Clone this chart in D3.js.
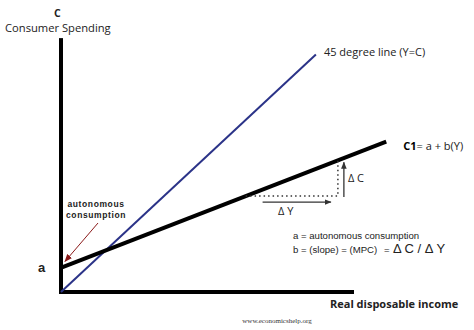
<!DOCTYPE html>
<html>
<head>
<meta charset="utf-8">
<script src="https://cdn.jsdelivr.net/npm/d3@7"></script>
<style>
  body { margin: 0; background: #fff; }
  svg { display: block; }
  .cal { font-family: "Open Sans", sans-serif; fill: #222; }
  .ari { font-family: "Liberation Sans", Arial, sans-serif; fill: #222; }
</style>
</head>
<body>
<div id="chart"></div>
<script>
var width = 474, height = 330;

// axis extents (income Y, consumption C), in arbitrary units
var xMax = 100, yMax = 93;
// consumption function C1 = a + b*Y
var a = 9, b = 0.415;
var c1Range = [0, 111];
// 45 degree line Y = C
var lineRange = [0, 87];
// the slope triangle, between two incomes
var deltaY = [63, 94.5];

var labels = {
    yTitle: 'C', ySub: 'Consumer Spending',
    xTitle: 'Real disposable income',
    line45: '45 degree line (Y=C)',
    auto: ['autonomous', 'consumption'],
    note1: 'a = autonomous consumption',
    note2: 'b = (slope) = (MPC)',
    note3: '\u0394 C / \u0394 Y',
    source: 'www.economicshelp.org'
};

var svg = d3.select('#chart').append('svg')
    .attr('width', width).attr('height', height);

var x = d3.scaleLinear().domain([0, 100]).range([61, 354]);
var y = d3.scaleLinear().domain([0, 100]).range([292, 19]);

function C(v) { return a + b * v; }

var defs = svg.append('defs');
function marker(id, color, size) {
    defs.append('marker')
        .attr('id', id)
        .attr('viewBox', '0 0 10 10')
        .attr('refX', 9).attr('refY', 5)
        .attr('markerWidth', size).attr('markerHeight', size)
        .attr('markerUnits', 'userSpaceOnUse')
        .attr('orient', 'auto')
        .append('path').attr('d', 'M0,1 L10,5 L0,9 Z').attr('fill', color);
}
marker('arrowBlack', '#333', 7);
marker('arrowRed', '#8b1a1a', 8);

// axes
svg.append('line')
    .attr('x1', x(0)).attr('y1', y(0) + 2)
    .attr('x2', x(0)).attr('y2', y(yMax))
    .attr('stroke', '#000').attr('stroke-width', 4);
svg.append('line')
    .attr('x1', x(0) - 2).attr('y1', y(0))
    .attr('x2', x(xMax)).attr('y2', y(0))
    .attr('stroke', '#000').attr('stroke-width', 4);

// 45 degree line
svg.append('line')
    .attr('x1', x(lineRange[0])).attr('y1', y(lineRange[0]))
    .attr('x2', x(lineRange[1])).attr('y2', y(lineRange[1]))
    .attr('stroke', '#2b3388').attr('stroke-width', 2);

// consumption function
svg.append('line')
    .attr('x1', x(c1Range[0]) + 1).attr('y1', y(C(c1Range[0])))
    .attr('x2', x(c1Range[1])).attr('y2', y(C(c1Range[1])))
    .attr('stroke', '#000').attr('stroke-width', 4);

// slope triangle (dotted)
var y0 = y(C(deltaY[0])), y1 = y(C(deltaY[1]));
var xa = x(deltaY[0]), xb = x(deltaY[1]);
svg.append('path')
    .attr('d', `M${xa},${y0} L${xb},${y0} L${xb},${y1}`)
    .attr('fill', 'none').attr('stroke', '#333')
    .attr('stroke-width', 1.5).attr('stroke-dasharray', '1.5,3');

// delta arrows
svg.append('line')
    .attr('x1', xa + 17).attr('y1', y0 + 6)
    .attr('x2', xb - 7).attr('y2', y0 + 6)
    .attr('stroke', '#333').attr('stroke-width', 1.3)
    .attr('marker-end', 'url(#arrowBlack)');
svg.append('line')
    .attr('x1', xb + 6).attr('y1', y0 + 1)
    .attr('x2', xb + 6).attr('y2', y1 + 2)
    .attr('stroke', '#333').attr('stroke-width', 1.3)
    .attr('marker-end', 'url(#arrowBlack)');
svg.append('text').attr('class', 'cal')
    .attr('x', (xa + xb) / 2 - 6).attr('y', y0 + 19)
    .attr('font-size', 11).attr('text-anchor', 'middle')
    .text('\u0394 Y');
svg.append('text').attr('class', 'cal')
    .attr('x', xb + 10).attr('y', (y0 + y1) / 2 + 4)
    .attr('font-size', 11)
    .text('\u0394 C');

// titles
svg.append('text').attr('class', 'cal')
    .attr('x', 54).attr('y', 17).attr('font-size', 10.5).attr('font-weight', 'bold')
    .attr('fill', '#000')
    .text(labels.yTitle);
svg.append('text').attr('class', 'cal')
    .attr('x', 5).attr('y', 32).attr('font-size', 11.2)
    .text(labels.ySub);
svg.append('text').attr('class', 'cal')
    .attr('x', 330).attr('y', 308).attr('font-size', 11).attr('font-weight', 'bold')
    .attr('fill', '#000')
    .text(labels.xTitle);
svg.append('text').attr('class', 'cal')
    .attr('x', x(lineRange[1]) + 8).attr('y', y(lineRange[1]) + 2).attr('font-size', 11)
    .text(labels.line45);

var c1Label = svg.append('text').attr('class', 'cal')
    .attr('x', x(c1Range[1]) + 17).attr('y', y(C(c1Range[1])) + 8).attr('font-size', 11);
c1Label.append('tspan').attr('font-weight', 'bold').attr('fill', '#000').text('C1');
c1Label.append('tspan').text('= a + b(Y)');

// intercept label
svg.append('text').attr('class', 'ari')
    .attr('x', 38).attr('y', y(a) + 5).attr('font-size', 13).attr('font-weight', 'bold')
    .attr('fill', '#000')
    .text('a');

// autonomous consumption callout
svg.selectAll('.autoLbl')
    .data(labels.auto)
    .join('text')
    .attr('class', 'ari autoLbl')
    .attr('x', 96).attr('y', (d, i) => 207 + i * 11)
    .attr('text-anchor', 'middle')
    .attr('font-size', 8.5).attr('font-weight', 'bold')
    .attr('letter-spacing', 0.6)
    .text(d => d);
svg.append('line')
    .attr('x1', 98).attr('y1', 223)
    .attr('x2', x(0) + 4).attr('y2', y(a) - 6)
    .attr('stroke', '#8b1a1a').attr('stroke-width', 1)
    .attr('marker-end', 'url(#arrowRed)');

// notes
svg.append('text').attr('class', 'ari')
    .attr('x', 293).attr('y', 239).attr('font-size', 9.6)
    .text(labels.note1);
svg.append('text').attr('class', 'ari')
    .attr('x', 293).attr('y', 253).attr('font-size', 9.6)
    .text(labels.note2);
svg.append('text').attr('class', 'ari')
    .attr('x', 384).attr('y', 253).attr('font-size', 9.6)
    .text('=');
svg.append('text').attr('class', 'ari')
    .attr('x', 393).attr('y', 253).attr('font-size', 13)
    .text(labels.note3);

// source
svg.append('text')
    .attr('x', 277).attr('y', 323).attr('text-anchor', 'middle')
    .attr('font-family', '"Liberation Serif", serif').attr('font-size', 7)
    .attr('fill', '#333')
    .text(labels.source);
</script>
</body>
</html>
